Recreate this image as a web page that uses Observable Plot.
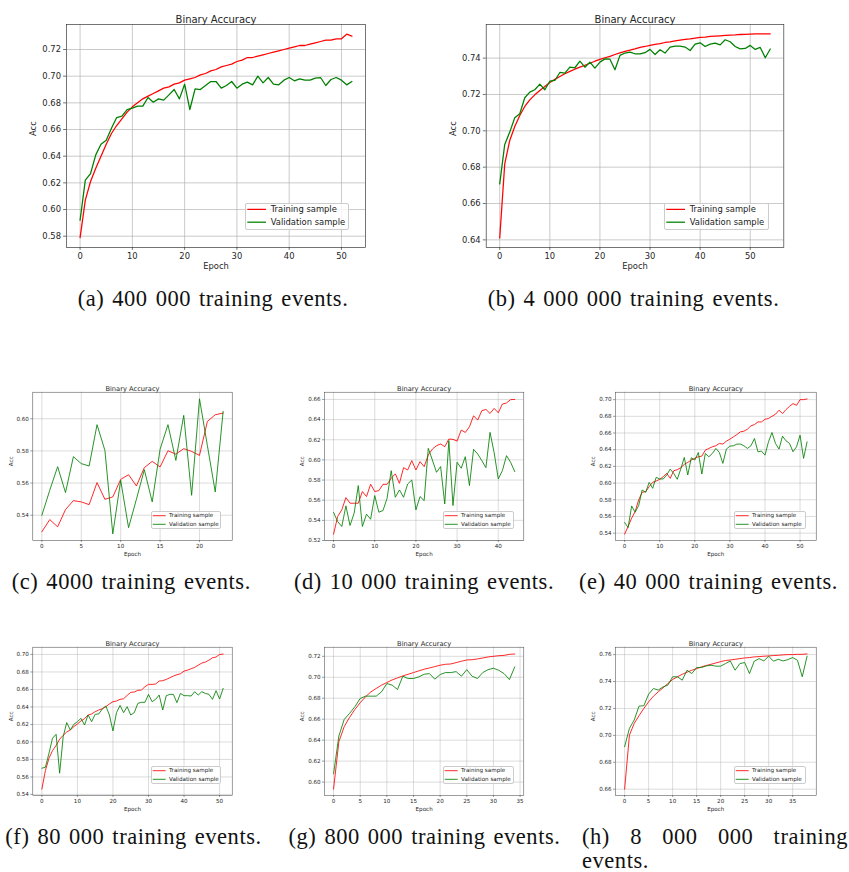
<!DOCTYPE html>
<html><head><meta charset="utf-8">
<script src="https://cdn.jsdelivr.net/npm/d3@7"></script>
<script src="https://cdn.jsdelivr.net/npm/@observablehq/plot@0.6"></script>
<style>
body{margin:0;background:#fff}
#fig{position:relative;width:849px;height:872px;background:#fff;overflow:hidden}
.cap{position:absolute;font-family:"Liberation Serif";font-size:22.5px;letter-spacing:0.55px;word-spacing:1.8px;line-height:24px;color:#111;white-space:nowrap;text-align:center}
.cap.just{white-space:normal;text-align:justify}
.leg{position:absolute;box-sizing:border-box;border:1px solid #cccccc;border-radius:2px;background:rgba(255,255,255,0.8);font-family:"DejaVu Sans";color:#222}
.leg .sw,.leg .tx{position:absolute;white-space:nowrap}
.leg svg{display:block;overflow:visible}
</style></head><body><div id="fig"></div><script>
// ---------------- data ----------------
const titleText = "Binary Accuracy";
const xLabelText = "Epoch";
const yLabelText = "Acc";
const legendLabels = ["Training sample", "Validation sample"];
const legendColors = ["#ff0000", "#008000"];
const captions = [
  "(a) 400 000 training events.", "(b) 4 000 000 training events.",
  "(c) 4000 training events.", "(d) 10 000 training events.", "(e) 40 000 training events.",
  "(f) 80 000 training events.", "(g) 800 000 training events.", "(h) 8 000 000 training events."
];

const aTrain = [0.579,0.607,0.621,0.631,0.640,0.649,0.657,0.663,0.668,0.673,0.677,0.680,0.683,0.685,0.687,0.689,0.691,0.692,0.694,0.695,0.697,0.698,0.699,0.701,0.702,0.704,0.705,0.707,0.708,0.709,0.711,0.712,0.714,0.714,0.715,0.716,0.717,0.718,0.719,0.720,0.721,0.722,0.723,0.723,0.724,0.725,0.726,0.727,0.727,0.728,0.728,0.7315,0.730];
const aVal = [0.592,0.622,0.627,0.641,0.649,0.652,0.661,0.669,0.670,0.675,0.676,0.6775,0.6775,0.684,0.6805,0.683,0.682,0.686,0.690,0.683,0.694,0.675,0.6905,0.690,0.693,0.696,0.696,0.691,0.693,0.696,0.691,0.694,0.6955,0.6935,0.700,0.695,0.699,0.694,0.6935,0.697,0.699,0.6965,0.698,0.697,0.697,0.6985,0.699,0.693,0.6975,0.699,0.697,0.6935,0.696];

const bTrain = [0.641,0.6818,0.6947,0.7024,0.7084,0.7134,0.717,0.7198,0.7222,0.7244,0.7266,0.7283,0.7299,0.7314,0.7327,0.7339,0.735,0.7361,0.7372,0.7383,0.7393,0.7402,0.741,0.742,0.7429,0.7437,0.7444,0.7451,0.7459,0.7464,0.747,0.7475,0.748,0.7486,0.749,0.7495,0.7499,0.7503,0.7506,0.751,0.7514,0.7516,0.7519,0.7521,0.7523,0.7525,0.7527,0.7528,0.753,0.7531,0.7532,0.7533,0.7533,0.7534,0.7534];
const bVal = [0.6708,0.6925,0.6993,0.7072,0.7094,0.7182,0.7213,0.7226,0.7257,0.7226,0.7273,0.7277,0.7321,0.7317,0.735,0.7347,0.7383,0.735,0.7378,0.7345,0.7378,0.7396,0.7394,0.7336,0.7415,0.7428,0.7433,0.7424,0.7424,0.743,0.7448,0.742,0.7446,0.7428,0.7461,0.7466,0.7466,0.7461,0.7442,0.7477,0.7484,0.7464,0.7477,0.7483,0.7473,0.7501,0.749,0.7464,0.7451,0.7453,0.747,0.7448,0.7459,0.7402,0.745];

const cTrain = [0.5297,0.5373,0.5328,0.5435,0.5491,0.5483,0.5466,0.5603,0.5499,0.5514,0.5623,0.5652,0.5582,0.5696,0.5735,0.57,0.5801,0.578,0.5814,0.5797,0.5772,0.5983,0.6025,0.6035];
const cVal = [0.54,0.5555,0.5702,0.5541,0.5764,0.5721,0.5706,0.5963,0.5803,0.5284,0.5617,0.5323,0.55,0.5683,0.5483,0.581,0.5963,0.5741,0.6021,0.5524,0.6124,0.5834,0.5545,0.6046];

const dTrain = [0.5263,0.5438,0.5504,0.5626,0.557,0.557,0.557,0.5686,0.5636,0.5758,0.5686,0.5695,0.5758,0.5758,0.5818,0.5861,0.5768,0.5923,0.59,0.5993,0.59,0.5983,0.5933,0.6049,0.6108,0.6141,0.6158,0.6131,0.6207,0.6204,0.6187,0.6296,0.6273,0.6329,0.6438,0.6395,0.6488,0.6501,0.6461,0.6511,0.6468,0.6554,0.6565,0.6598,0.66];
const dVal = [0.5478,0.5388,0.5339,0.5544,0.5349,0.5471,0.5745,0.5339,0.5461,0.5411,0.5646,0.5481,0.5497,0.5619,0.5893,0.5629,0.5702,0.5629,0.5761,0.5801,0.5504,0.5636,0.5596,0.6115,0.5999,0.5877,0.5934,0.5563,0.6191,0.5547,0.5976,0.5917,0.6032,0.5745,0.6105,0.6059,0.5993,0.5923,0.6273,0.6072,0.5811,0.5893,0.6042,0.5976,0.5884];

const eTrain = [0.5388,0.548,0.5579,0.5659,0.5798,0.589,0.5897,0.5957,0.6009,0.6025,0.6045,0.6077,0.6116,0.6057,0.6148,0.616,0.6184,0.6224,0.6248,0.6276,0.6296,0.6315,0.6323,0.6395,0.6415,0.6435,0.6447,0.6475,0.6467,0.6502,0.6526,0.6554,0.6582,0.6614,0.6622,0.6646,0.6686,0.6701,0.6733,0.6733,0.6765,0.6773,0.6801,0.6825,0.6873,0.6833,0.6881,0.692,0.6952,0.6932,0.70,0.70,0.7008];
const eVal = [0.5527,0.5468,0.5726,0.5651,0.573,0.5917,0.589,0.6009,0.5937,0.6069,0.6049,0.6049,0.6097,0.6168,0.6116,0.6045,0.6168,0.6307,0.6097,0.6303,0.6276,0.6367,0.6108,0.6355,0.6315,0.6355,0.6415,0.6367,0.6236,0.6407,0.6443,0.6447,0.6467,0.6467,0.6447,0.6415,0.6447,0.6534,0.6375,0.6383,0.6335,0.6494,0.6606,0.6475,0.6407,0.6562,0.6506,0.6475,0.6375,0.6435,0.6574,0.6296,0.6494];

const fTrain = [0.5461,0.5673,0.5814,0.5902,0.5959,0.6031,0.6076,0.6114,0.6137,0.6175,0.6206,0.624,0.6266,0.6308,0.632,0.6346,0.6365,0.638,0.6403,0.6434,0.646,0.6468,0.6487,0.6494,0.6532,0.6567,0.6571,0.659,0.6593,0.6631,0.6658,0.6658,0.6662,0.6696,0.67,0.6715,0.6734,0.6753,0.6768,0.678,0.681,0.6821,0.6837,0.6852,0.6878,0.6901,0.6913,0.6935,0.6962,0.697,0.70,0.7004];
const fVal = [0.57,0.5711,0.5871,0.6042,0.6088,0.5643,0.6061,0.6221,0.6137,0.6202,0.6232,0.627,0.6194,0.6308,0.6232,0.6316,0.632,0.6377,0.6411,0.6308,0.6126,0.6335,0.6418,0.6335,0.6403,0.6308,0.6335,0.6441,0.6453,0.6453,0.6544,0.646,0.6487,0.6536,0.6365,0.6529,0.6544,0.6544,0.6449,0.6555,0.6529,0.6529,0.6525,0.6574,0.6536,0.6574,0.6555,0.6544,0.6487,0.6586,0.6491,0.6612];

const gTrain = [0.5933,0.6386,0.6529,0.6617,0.6693,0.6757,0.6814,0.6861,0.6893,0.6925,0.695,0.6975,0.6994,0.7013,0.7029,0.7045,0.7061,0.7077,0.7089,0.7102,0.7115,0.7124,0.7127,0.714,0.7153,0.7165,0.7168,0.7175,0.7184,0.7194,0.72,0.7206,0.7209,0.7219,0.7222];
const gVal = [0.6079,0.644,0.6598,0.6655,0.6719,0.6798,0.682,0.682,0.682,0.6861,0.694,0.6925,0.6883,0.701,0.6988,0.6988,0.7004,0.7029,0.7035,0.6982,0.7026,0.7045,0.7045,0.7054,0.701,0.7073,0.701,0.6988,0.7045,0.7073,0.7086,0.7067,0.7035,0.6978,0.7099];

const hTrain = [0.66,0.7002,0.7089,0.7146,0.72,0.7249,0.7291,0.7323,0.7353,0.7385,0.7415,0.7435,0.7454,0.7469,0.7484,0.7496,0.7509,0.7519,0.7528,0.7538,0.7548,0.7556,0.756,0.7565,0.757,0.7575,0.7578,0.7583,0.7585,0.7588,0.759,0.7593,0.7595,0.7598,0.76,0.76,0.7602,0.7602,0.7605];
const hVal = [0.6916,0.7052,0.7114,0.7217,0.722,0.7306,0.7348,0.7336,0.736,0.7373,0.7435,0.7435,0.741,0.7484,0.7459,0.7504,0.7504,0.7516,0.7521,0.7514,0.7514,0.7533,0.7553,0.7484,0.7533,0.7541,0.7459,0.7551,0.757,0.7553,0.7588,0.7551,0.7565,0.7553,0.7563,0.7578,0.7558,0.7435,0.7588];

// tick values
const ticksX10 = [0, 10, 20, 30, 40, 50];
const ticksX5a = [0, 5, 10, 15, 20];
const ticksX10d = [0, 10, 20, 30, 40];
const ticksX5b = [0, 5, 10, 15, 20, 25, 30, 35];
const ticksYa = [0.58, 0.60, 0.62, 0.64, 0.66, 0.68, 0.70, 0.72];
const ticksYb = [0.64, 0.66, 0.68, 0.70, 0.72, 0.74];
const ticksYc = [0.54, 0.56, 0.58, 0.60];
const ticksYd = [0.52, 0.54, 0.56, 0.58, 0.60, 0.62, 0.64, 0.66];
const ticksYe = [0.54, 0.56, 0.58, 0.60, 0.62, 0.64, 0.66, 0.68, 0.70];
const ticksYg = [0.60, 0.62, 0.64, 0.66, 0.68, 0.70, 0.72];
const ticksYh = [0.66, 0.68, 0.70, 0.72, 0.74, 0.76];

// ---------------- layout / style ----------------
const BIG = {tick: 8.4, title: 10, lw: 1.26, grid: 0.67, spine: 0.7, tickLen: 2.9, pad: 2.6, titleGap: 9, yLabOff: 33, xLabOff: 21,
  leg: {font: 8.4, swL: 2.3, swW: 18.7, txL: 25.7, rows: [6.4, 19.2]}};
const SMALL = {tick: 5.6, title: 6.7, lw: 0.84, grid: 0.45, spine: 0.5, tickLen: 2, pad: 1.9, titleGap: 5.7, yLabOff: 22, xLabOff: 15,
  leg: {font: 5.6, swL: 1.7, swW: 13, txL: 18, rows: [4.7, 13.3]}};

const panels = [
  {train: aTrain, val: aVal, s: BIG, box: {x: 0, y: 0, w: 425, h: 282}, frame: {l: 66, r: 365, t: 24, b: 247},
   xd: [-2.6, 54.6], yd: [0.57153, 0.73875], xt: ticksX10, yt: ticksYa, leg: {x: 245, y: 203, w: 104, h: 27},
   cap: {x: 0, w: 426, y: 286.6}},
  {train: bTrain, val: bVal, s: BIG, box: {x: 425, y: 0, w: 424, h: 282}, frame: {l: 485.7, r: 783.3, t: 24, b: 247},
   xd: [-2.7, 56.7], yd: [0.6358, 0.7585], xt: ticksX10, yt: ticksYb, leg: {x: 664, y: 203, w: 105, h: 27},
   cap: {x: 425, w: 417, y: 286.6}},
  {train: cTrain, val: cVal, s: SMALL, box: {x: 0, y: 370, w: 283, h: 195}, frame: {l: 32.3, r: 231.7, t: 391.7, b: 540},
   xd: [-1.15, 24.15], yd: [0.5243, 0.6165], xt: ticksX5a, yt: ticksYc, leg: {x: 151, y: 511, w: 70, h: 18},
   cap: {x: 0, w: 262.6, y: 569.6}},
  {train: dTrain, val: dVal, s: SMALL, box: {x: 283, y: 370, w: 283, h: 195}, frame: {l: 324, r: 523.3, t: 391.7, b: 540},
   xd: [-2.2, 46.2], yd: [0.5200, 0.6672], xt: ticksX10d, yt: ticksYd, leg: {x: 443, y: 511, w: 71, h: 18},
   cap: {x: 283, w: 282, y: 569.6}},
  {train: eTrain, val: eVal, s: SMALL, box: {x: 566, y: 370, w: 283, h: 195}, frame: {l: 615, r: 815.7, t: 391.7, b: 540},
   xd: [-2.6, 54.6], yd: [0.5312, 0.7089], xt: ticksX10, yt: ticksYe, leg: {x: 734, y: 511, w: 72, h: 18},
   cap: {x: 566, w: 285, y: 569.6}},
  {train: fTrain, val: fVal, s: SMALL, box: {x: 0, y: 625, w: 283, h: 195}, frame: {l: 32.3, r: 231.7, t: 646.7, b: 795},
   xd: [-2.55, 53.55], yd: [0.5388, 0.7083], xt: ticksX10, yt: ticksYe, leg: {x: 151, y: 766, w: 70, h: 18},
   cap: {x: 0, w: 267, y: 824.6}},
  {train: gTrain, val: gVal, s: SMALL, box: {x: 283, y: 625, w: 283, h: 195}, frame: {l: 324, r: 523.3, t: 646.7, b: 795},
   xd: [-1.7, 35.7], yd: [0.5872, 0.7287], xt: ticksX5b, yt: ticksYg, leg: {x: 443, y: 766, w: 71, h: 18},
   cap: {x: 283, w: 283, y: 824.6}},
  {train: hTrain, val: hVal, s: SMALL, box: {x: 566, y: 625, w: 283, h: 195}, frame: {l: 615, r: 815.7, t: 646.7, b: 795},
   xd: [-1.9, 39.9], yd: [0.6553, 0.7655], xt: ticksX5b, yt: ticksYh, leg: {x: 734, y: 766, w: 72, h: 18},
   cap: {x: 582, w: 266, y: 824.6, justify: true}}
];

const fig = document.getElementById("fig");
const ink = "#262626";
const spineColor = "#3a3a3a";
const NS = "http://www.w3.org/2000/svg";

panels.forEach((p, k) => {
  const s = p.s, b = p.box, f = p.frame;
  const svg = Plot.plot({
    width: b.w, height: b.h,
    marginLeft: f.l - b.x, marginRight: b.x + b.w - f.r,
    marginTop: f.t - b.y, marginBottom: b.y + b.h - f.b,
    style: {fontFamily: "DejaVu Sans", fontSize: s.tick + "px", color: ink, background: "transparent", overflow: "visible"},
    x: {domain: p.xd},
    y: {domain: p.yd},
    marks: [
      Plot.gridX({ticks: p.xt, stroke: "#b0b0b0", strokeOpacity: 1, strokeWidth: s.grid}),
      Plot.gridY({ticks: p.yt, stroke: "#b0b0b0", strokeOpacity: 1, strokeWidth: s.grid}),
      Plot.lineY(p.train, {stroke: legendColors[0], strokeWidth: s.lw}),
      Plot.lineY(p.val, {stroke: legendColors[1], strokeWidth: s.lw}),
      Plot.frame({stroke: spineColor, strokeWidth: s.spine}),
      Plot.axisX({ticks: p.xt, tickSize: s.tickLen, tickPadding: s.pad, fontSize: s.tick, stroke: spineColor, strokeWidth: s.spine, label: null, tickFormat: d3.format("d")}),
      Plot.axisY({ticks: p.yt, tickSize: s.tickLen, tickPadding: s.pad, fontSize: s.tick, stroke: spineColor, strokeWidth: s.spine, label: null, tickFormat: d3.format(".2f")}),
      Plot.text([titleText], {text: d => d, frameAnchor: "top", dy: -s.titleGap, fontSize: s.title, fill: ink}),
      Plot.text([yLabelText], {text: d => d, frameAnchor: "left", dx: -s.yLabOff, rotate: -90, fontSize: s.tick, fill: ink}),
      Plot.text([xLabelText], {text: d => d, frameAnchor: "bottom", dy: s.xLabOff, fontSize: s.tick, fill: ink})
    ]
  });
  svg.style.position = "absolute";
  svg.style.left = b.x + "px";
  svg.style.top = b.y + "px";
  svg.style.maxWidth = "none";
  fig.appendChild(svg);

  // legend (matplotlib-style box, lower right)
  const L = p.leg, ls = s.leg;
  const lg = document.createElement("div");
  lg.className = "leg";
  Object.assign(lg.style, {left: L.x + "px", top: L.y + "px", width: L.w + "px", height: L.h + "px", fontSize: ls.font + "px"});
  const sws = document.createElementNS(NS, "svg");
  sws.setAttribute("width", L.w - 2);
  sws.setAttribute("height", L.h - 2);
  sws.style.position = "absolute";
  sws.style.left = "0px";
  sws.style.top = "0px";
  lg.appendChild(sws);
  legendLabels.forEach((lab, i) => {
    const cy = ls.rows[i] - 1;
    const ln = document.createElementNS(NS, "line");
    ln.setAttribute("x1", ls.swL - 1);
    ln.setAttribute("x2", ls.swL - 1 + ls.swW);
    ln.setAttribute("y1", cy);
    ln.setAttribute("y2", cy);
    ln.setAttribute("stroke", legendColors[i]);
    ln.setAttribute("stroke-width", s.lw);
    sws.appendChild(ln);
    const tx = document.createElement("div");
    tx.className = "tx";
    tx.textContent = lab;
    Object.assign(tx.style, {left: (ls.txL - 1) + "px", top: (cy - ls.font * 0.6) + "px", lineHeight: (ls.font * 1.2) + "px"});
    lg.appendChild(tx);
  });
  fig.appendChild(lg);

  // caption
  const c = document.createElement("div");
  c.className = "cap" + (p.cap.justify ? " just" : "");
  Object.assign(c.style, {left: p.cap.x + "px", top: p.cap.y + "px", width: p.cap.w + "px"});
  c.textContent = captions[k];
  fig.appendChild(c);
});
</script></body></html>
